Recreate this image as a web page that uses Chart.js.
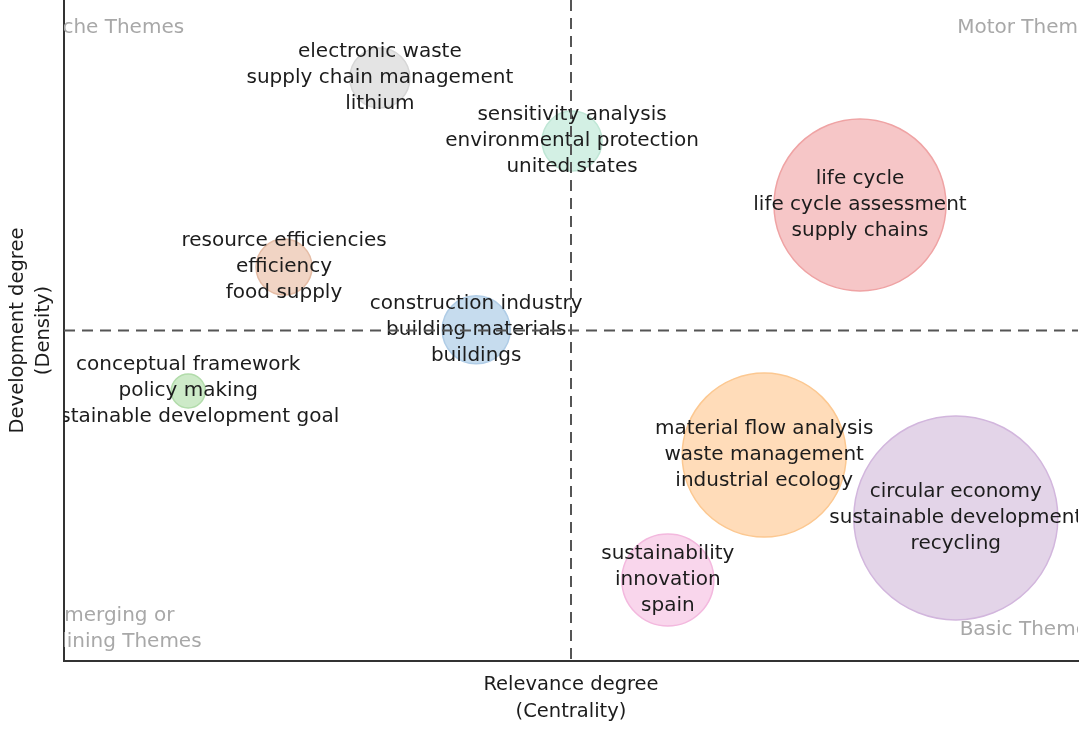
<!DOCTYPE html>
<html>
<head>
<meta charset="utf-8">
<script src="https://cdn.jsdelivr.net/npm/chart.js@4.4.0/dist/chart.umd.min.js"></script>
<style>
  body { margin: 0; background: #fff; }
  #wrap { width: 1086px; height: 729px; }
</style>
</head>
<body>
<div id="wrap"><canvas id="myChart"></canvas></div>
<script>
// theme map data (centrality = x, density = y, bubble radius)
var themes = [
    ['electronic waste', 'supply chain management', 'lithium'],
    ['sensitivity analysis', 'environmental protection', 'united states'],
    ['life cycle', 'life cycle assessment', 'supply chains'],
    ['resource efficiencies', 'efficiency', 'food supply'],
    ['construction industry', 'building materials', 'buildings'],
    ['conceptual framework', 'policy making', 'sustainable development goal'],
    ['material flow analysis', 'waste management', 'industrial ecology'],
    ['circular economy', 'sustainable development', 'recycling'],
    ['sustainability', 'innovation', 'spain']
];
var centrality = [-0.377, 0.002, 0.570, -0.566, -0.187, -0.755, 0.381, 0.759, 0.191];
var density = [0.764, 0.573, 0.380, 0.192, 0.002, -0.183, -0.377, -0.567, -0.755];
var sizes = [30, 30, 86, 28, 34, 17, 82, 102, 46];
var fills = ['#e4e4e4', '#d3f0e4', '#f6c6c7', '#f1d4c4', '#c6dcee', '#cdeac8', '#ffdcb9', '#e3d4e8', '#f9d6ec'];
var edges = ['#d6d6d6', '#bfe6d5', '#efa3a4', '#e5bca5', '#afcce6', '#b2dcab', '#fcc891', '#d2b6dd', '#f3b8de'];
var quadrants = ['Niche Themes', 'Motor Themes', 'Emerging or\nDeclining Themes', 'Basic Themes'];

var points = [];
for (var i = 0; i < themes.length; i++) {
    points.push({x: centrality[i], y: density[i], r: sizes[i]});
}

var FONT = '"DejaVu Sans", Verdana, sans-serif';

var themeText = {
    id: 'themeText',
    afterDatasetsDraw: function(chart) {
        var ctx = chart.ctx;
        var area = chart.chartArea;
        var sx = chart.scales.x, sy = chart.scales.y;
        ctx.save();
        ctx.beginPath();
        ctx.rect(area.left, area.top, area.right - area.left, area.bottom - area.top);
        ctx.clip();
        ctx.font = '20px ' + FONT;
        ctx.textAlign = 'center';
        ctx.textBaseline = 'middle';

        // quadrant names
        ctx.fillStyle = '#a8a8a8';
        var lx = area.left + 49, rx = area.right - 49;
        ctx.fillText(quadrants[0], lx, 28);
        ctx.fillText(quadrants[1], rx, 28);
        var em = quadrants[2].split('\n');
        ctx.fillText(em[0], lx, 616);
        ctx.fillText(em[1], lx - 1, 642);
        ctx.fillText(quadrants[3], rx, 630);

        // keyword labels
        ctx.fillStyle = '#1c1c1c';
        for (var i = 0; i < themes.length; i++) {
            var px = sx.getPixelForValue(centrality[i]);
            var py = sy.getPixelForValue(density[i]);
            for (var j = 0; j < themes[i].length; j++) {
                ctx.fillText(themes[i][j], px, py + (j - 1) * 26);
            }
        }

        // quadrant dividers
        ctx.strokeStyle = '#555';
        ctx.lineWidth = 2;
        ctx.setLineDash([11, 7]);
        var cx = sx.getPixelForValue(0), cy = sy.getPixelForValue(0);
        ctx.beginPath();
        ctx.moveTo(cx, area.top);
        ctx.lineTo(cx, area.bottom);
        ctx.moveTo(area.left, cy);
        ctx.lineTo(area.right, cy);
        ctx.stroke();
        ctx.restore();
    }
};

var ctx = document.getElementById('myChart').getContext('2d');
var myChart = new Chart(ctx, {
    type: 'bubble',
    data: {
        datasets: [{
            data: points,
            backgroundColor: fills,
            borderColor: edges,
            borderWidth: 1.5,
            clip: false
        }]
    },
    options: {
        responsive: true,
        maintainAspectRatio: false,
        animation: false,
        layout: { autoPadding: false, padding: { top: 0, right: 8, bottom: 0, left: 0 } },
        plugins: { legend: { display: false }, tooltip: { enabled: false } },
        scales: {
            x: {
                min: -1, max: 1,
                grid: { display: false },
                ticks: { display: false },
                border: { display: true, color: '#333', width: 2 },
                title: {
                    display: true,
                    text: ['Relevance degree', '(Centrality)'],
                    color: '#1c1c1c',
                    font: { family: FONT, size: 19.5, lineHeight: 1.385 },
                    padding: { top: 0, bottom: 3.5 }
                },
                afterFit: function(s) { s.height = 68; }
            },
            y: {
                min: -1, max: 1,
                grid: { display: false },
                ticks: { display: false },
                border: { display: true, color: '#333', width: 2 },
                title: {
                    display: true,
                    text: ['Development degree', '(Density)'],
                    color: '#1c1c1c',
                    font: { family: FONT, size: 19.5, lineHeight: 1.36 },
                    padding: { top: 4.25, bottom: 0 }
                },
                afterFit: function(s) { s.width = 64; }
            }
        }
    },
    plugins: [themeText]
});
</script>
</body>
</html>
